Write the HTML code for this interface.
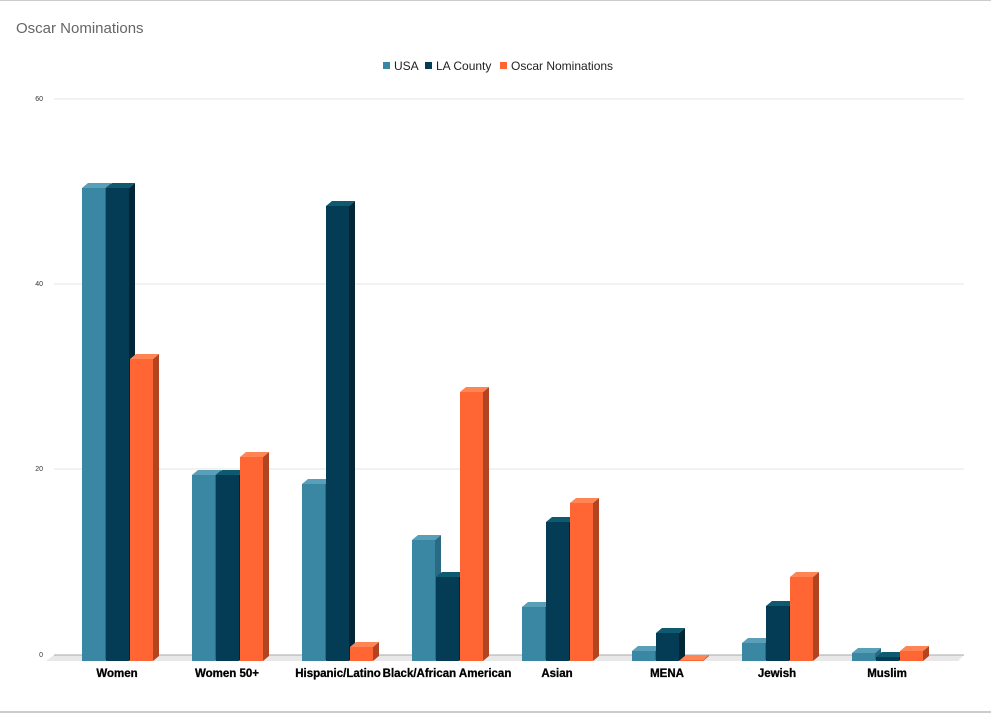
<!DOCTYPE html>
<html><head><style>body{margin:0;background:#fff}svg{display:block;font-family:"Liberation Sans",Arial,sans-serif}</style></head><body>
<svg width="991" height="713" viewBox="0 0 991 713">
<rect x="0" y="0" width="991" height="1" fill="#ccc"/>
<rect x="0" y="711" width="991" height="2" fill="#ccc"/>
<text x="16" y="33" font-size="15" fill="#666">Oscar Nominations</text>
<rect x="383" y="62" width="7" height="7" fill="#3a87a3"/><text x="394" y="70" font-size="12" fill="#222">USA</text>
<rect x="425" y="62" width="7" height="7" fill="#043b55"/><text x="436" y="70" font-size="12" fill="#222">LA County</text>
<rect x="500" y="62" width="7" height="7" fill="#ff6633"/><text x="511" y="70" font-size="12" fill="#222">Oscar Nominations</text>
<g fill="#e5e5e5"><rect x="54" y="98.5" width="910" height="1"/><rect x="54" y="283.5" width="910" height="1"/><rect x="54" y="468.5" width="910" height="1"/></g>
<g font-size="7" fill="#333" text-anchor="end"><text x="43" y="101">60</text><text x="43" y="286">40</text><text x="43" y="471">20</text><text x="43" y="657">0</text></g>
<polygon points="54,655 964,655 958,661 46,661" fill="#e8e8e8"/>
<rect x="54" y="654.5" width="910" height="1" fill="#aaa"/>
<g id="bars"></g>
<g font-size="11.5" font-weight="bold" fill="#000" text-anchor="middle" stroke="#000" stroke-width="0.3">
<text x="117" y="677">Women</text><text x="227" y="677">Women 50+</text><text x="338" y="677">Hispanic/Latino</text><text x="447" y="677">Black/African American</text><text x="557" y="677">Asian</text><text x="667" y="677">MENA</text><text x="777" y="677">Jewish</text><text x="887" y="677">Muslim</text></g>
</svg>
<script>
var tops=[[188,188,359],[475,475,457],[484,206,647],[540,577,392],[607,522,503],[651,633,660],[643,606,577],[653,657,651]];
var cols=[["#3a87a3","#5a9fb8","#2a6a82"],["#043b55","#0e5a70","#022636"],["#ff6633","#ff8555","#b24422"]];
var g=document.getElementById('bars'),s='';
tops.forEach(function(t,i){var x0=82+i*110;
for(var j=0;j<3;j++){var x=x0+j*24,w=23,y=t[j],b=661,d=6,e=5,c=cols[j];
s+='<polygon points="'+(x+w)+','+y+' '+(x+w+d)+','+(y-e)+' '+(x+w+d)+','+(b-e)+' '+(x+w)+','+b+'" fill="'+c[2]+'"/>';
s+='<polygon points="'+x+','+y+' '+(x+d)+','+(y-e)+' '+(x+w+d)+','+(y-e)+' '+(x+w)+','+y+'" fill="'+c[1]+'"/>';
s+='<rect x="'+x+'" y="'+y+'" width="'+w+'" height="'+(b-y)+'" fill="'+c[0]+'"/>';}});
g.innerHTML=s;
</script>
</body></html>
